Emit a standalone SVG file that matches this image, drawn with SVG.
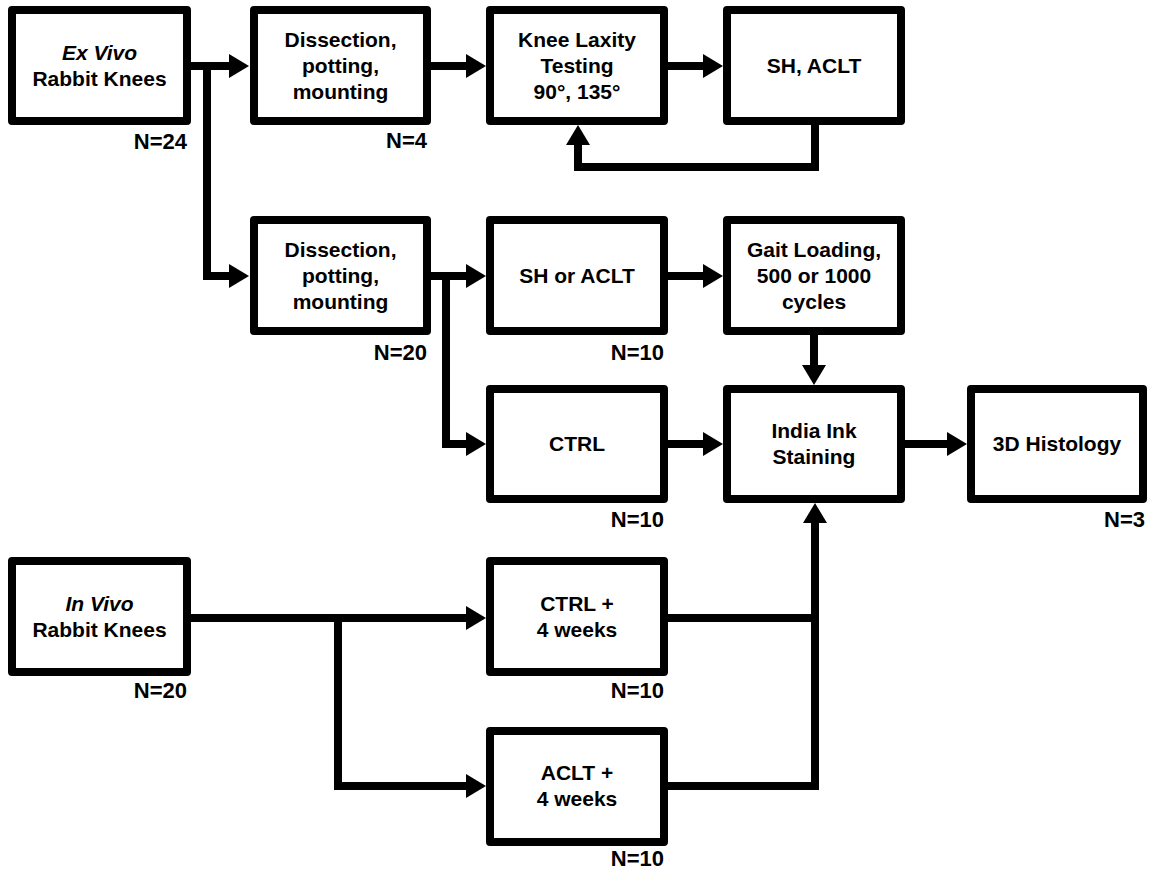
<svg xmlns="http://www.w3.org/2000/svg" width="1158" height="871" viewBox="0 0 1158 871">
<style>
  .box { fill: #ffffff; stroke: #000000; stroke-width: 8; stroke-linejoin: round; }
  .t { font-family: "Liberation Sans", Arial, sans-serif; font-weight: bold; font-size: 21px; text-anchor: middle; fill: #000; }
  .n { font-family: "Liberation Sans", Arial, sans-serif; font-weight: bold; font-size: 22px; text-anchor: end; fill: #000; }
  .c { fill: none; stroke: #000000; stroke-width: 8; stroke-linejoin: miter; }
  i, .it { font-style: italic; }
</style>
<defs>
  <marker id="ah" viewBox="0 0 20 24" refX="0" refY="12" markerWidth="20" markerHeight="24" markerUnits="userSpaceOnUse" orient="auto">
    <path d="M0,0 L20,12 L0,24 z" fill="#000000"/>
  </marker>
</defs>
<rect width="1158" height="871" fill="#ffffff"/>
<g id="connectors">
  <path class="c" d="M187,66 H229" marker-end="url(#ah)"/>
  <path class="c" d="M207,66 V276 H229" marker-end="url(#ah)"/>
  <path class="c" d="M427,66 H466" marker-end="url(#ah)"/>
  <path class="c" d="M664,66 H703" marker-end="url(#ah)"/>
  <path class="c" d="M815,121 V167 H578 V145" marker-end="url(#ah)"/>
  <path class="c" d="M427,276 H466" marker-end="url(#ah)"/>
  <path class="c" d="M446,276 V444 H466" marker-end="url(#ah)"/>
  <path class="c" d="M664,276 H703" marker-end="url(#ah)"/>
  <path class="c" d="M814,331 V365" marker-end="url(#ah)"/>
  <path class="c" d="M664,444 H703" marker-end="url(#ah)"/>
  <path class="c" d="M901,444 H947" marker-end="url(#ah)"/>
  <path class="c" d="M187,618 H466" marker-end="url(#ah)"/>
  <path class="c" d="M338,618 V786 H466" marker-end="url(#ah)"/>
  <path class="c" d="M664,618 H815"/>
  <path class="c" d="M664,786 H815 V523" marker-end="url(#ah)"/>
</g>
<g id="exvivo">
  <rect class="box" x="12" y="10" width="175" height="111"/>
  <text class="t" x="99.5" y="60"><tspan class="it">Ex Vivo</tspan></text>
  <text class="t" x="99.5" y="86">Rabbit Knees</text>
  <text class="n" x="187" y="149">N=24</text>
</g>
<g id="dissection1">
  <rect class="box" x="254" y="10" width="173" height="111"/>
  <text class="t" x="340.5" y="47">Dissection,</text>
  <text class="t" x="340.5" y="73">potting,</text>
  <text class="t" x="340.5" y="99">mounting</text>
  <text class="n" x="427" y="148">N=4</text>
</g>
<g id="laxity">
  <rect class="box" x="490" y="10" width="174" height="111"/>
  <text class="t" x="577" y="47">Knee Laxity</text>
  <text class="t" x="577" y="73">Testing</text>
  <text class="t" x="577" y="99">90°, 135°</text>
</g>
<g id="shaclt1">
  <rect class="box" x="727" y="10" width="174" height="111"/>
  <text class="t" x="814" y="73">SH, ACLT</text>
</g>
<g id="dissection2">
  <rect class="box" x="254" y="220" width="173" height="111"/>
  <text class="t" x="340.5" y="257">Dissection,</text>
  <text class="t" x="340.5" y="283">potting,</text>
  <text class="t" x="340.5" y="309">mounting</text>
  <text class="n" x="427" y="360">N=20</text>
</g>
<g id="shoraclt">
  <rect class="box" x="490" y="220" width="174" height="111"/>
  <text class="t" x="577" y="283">SH or ACLT</text>
  <text class="n" x="664" y="360">N=10</text>
</g>
<g id="gait">
  <rect class="box" x="727" y="220" width="174" height="111"/>
  <text class="t" x="814" y="257">Gait Loading,</text>
  <text class="t" x="814" y="283">500 or 1000</text>
  <text class="t" x="814" y="309">cycles</text>
</g>
<g id="ctrl">
  <rect class="box" x="490" y="389" width="174" height="110"/>
  <text class="t" x="577" y="451">CTRL</text>
  <text class="n" x="664" y="527">N=10</text>
</g>
<g id="indiaink">
  <rect class="box" x="727" y="389" width="174" height="110"/>
  <text class="t" x="814" y="438">India Ink</text>
  <text class="t" x="814" y="464">Staining</text>
</g>
<g id="histology">
  <rect class="box" x="971" y="389" width="172" height="110"/>
  <text class="t" x="1057" y="451">3D Histology</text>
  <text class="n" x="1145" y="527">N=3</text>
</g>
<g id="invivo">
  <rect class="box" x="12" y="561" width="175" height="111"/>
  <text class="t" x="99.5" y="611"><tspan class="it">In Vivo</tspan></text>
  <text class="t" x="99.5" y="637">Rabbit Knees</text>
  <text class="n" x="187" y="698">N=20</text>
</g>
<g id="ctrl4">
  <rect class="box" x="490" y="561" width="174" height="111"/>
  <text class="t" x="577" y="611">CTRL +</text>
  <text class="t" x="577" y="637">4 weeks</text>
  <text class="n" x="664" y="698">N=10</text>
</g>
<g id="aclt4">
  <rect class="box" x="490" y="731" width="174" height="111"/>
  <text class="t" x="577" y="780">ACLT +</text>
  <text class="t" x="577" y="806">4 weeks</text>
  <text class="n" x="664" y="866">N=10</text>
</g>
</svg>
